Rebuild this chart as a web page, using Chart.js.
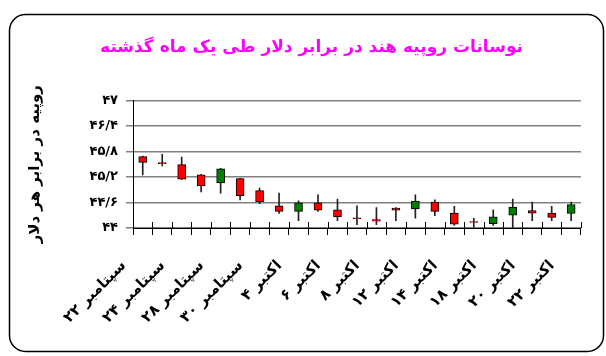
<!DOCTYPE html>
<html>
<head>
<meta charset="utf-8">
<script src="https://cdn.jsdelivr.net/npm/chart.js@4"></script>
<style>
  html, body { margin: 0; padding: 0; background: #fff; }
  #wrap { width: 606px; height: 356px; position: relative; }
</style>
</head>
<body>
<div id="wrap"><canvas id="c" width="606" height="356"></canvas></div>
<script>
// ---- data ----
const categories = [
  'سپتامبر ۲۲', 'سپتامبر ۲۳', 'سپتامبر ۲۴', 'سپتامبر ۲۷', 'سپتامبر ۲۸', 'سپتامبر ۲۹', 'سپتامبر ۳۰',
  'اکتبر ۱', 'اکتبر ۴', 'اکتبر ۵', 'اکتبر ۶', 'اکتبر ۷', 'اکتبر ۸', 'اکتبر ۱۱', 'اکتبر ۱۲',
  'اکتبر ۱۳', 'اکتبر ۱۴', 'اکتبر ۱۵', 'اکتبر ۱۸', 'اکتبر ۱۹', 'اکتبر ۲۰', 'اکتبر ۲۱', 'اکتبر ۲۲'
];
const openValues  = [45.68, 45.54, 45.49, 45.25, 45.06, 45.16, 44.88, 44.52, 44.39, 44.59, 44.43, 44.24, 44.20, 44.47, 44.45, 44.61, 44.35, 44.15, 44.10, 44.30, 44.41, 44.35, 44.34];
const highValues  = [45.69, 45.73, 45.67, 45.26, 45.40, 45.17, 44.94, 44.82, 44.64, 44.78, 44.68, 44.52, 44.48, 44.48, 44.78, 44.66, 44.51, 44.23, 44.43, 44.68, 44.61, 44.51, 44.61];
const lowValues   = [45.25, 45.46, 45.14, 44.85, 44.82, 44.66, 44.57, 44.34, 44.17, 44.39, 44.17, 44.08, 44.08, 44.17, 44.23, 44.29, 44.06, 44.02, 44.06, 44.00, 44.17, 44.17, 44.17];
const closeValues = [45.54, 45.51, 45.15, 44.99, 45.39, 44.76, 44.62, 44.39, 44.59, 44.42, 44.26, 44.22, 44.16, 44.42, 44.63, 44.39, 44.09, 44.13, 44.26, 44.49, 44.35, 44.25, 44.55];
const yTickValues = [44, 44.6, 45.2, 45.8, 46.4, 47];
const yTickLabels = ['۴۴', '۴۴/۶', '۴۵/۲', '۴۵/۸', '۴۶/۴', '۴۷'];
const chartTitle = 'نوسانات روپیه هند در برابر دلار طی یک ماه گذشته';
const yAxisTitle = 'روپیه در برابر هر دلار';

// ---- derived tables ----
const wickData = categories.map((_, i) => [lowValues[i], highValues[i]]);
const bodyData = categories.map((_, i) => [openValues[i], closeValues[i]]);
const bodyColors = categories.map((_, i) => closeValues[i] >= openValues[i] ? '#008000' : '#FF0000');

const FONT = "'DejaVu Sans', sans-serif";

const frame = {
  id: 'frame',
  beforeDraw(chart) {
    const ctx = chart.ctx;
    ctx.save();
    ctx.fillStyle = '#fff';
    ctx.fillRect(0, 0, chart.width, chart.height);
    ctx.beginPath();
    ctx.roundRect(9.5, 14.5, 594, 337, 16);
    ctx.lineWidth = 1.5;
    ctx.strokeStyle = '#000';
    ctx.stroke();
    ctx.restore();
  },
  afterDraw(chart) {
    // upper half of the crossing category tick marks on the x axis
    const x = chart.scales.x;
    const ctx = chart.ctx;
    ctx.save();
    ctx.strokeStyle = '#000';
    ctx.lineWidth = 1;
    ctx.beginPath();
    for (let i = 0; i <= categories.length; i++) {
      const px = Math.round(x.getPixelForValue(i - 0.5)) + 0.5;
      ctx.moveTo(px, x.top - 6);
      ctx.lineTo(px, x.top);
    }
    ctx.stroke();
    ctx.restore();
  }
};

new Chart(document.getElementById('c'), {
  type: 'bar',
  data: {
    labels: categories,
    datasets: [
      {
        label: 'body',
        data: bodyData,
        backgroundColor: bodyColors,
        borderColor: '#000',
        borderWidth: 1,
        borderSkipped: false,
        barThickness: 8,
        grouped: false,
        order: 0
      },
      {
        label: 'wick',
        data: wickData,
        backgroundColor: '#222',
        borderWidth: 0,
        barThickness: 1,
        grouped: false,
        order: 1
      }
    ]
  },
  options: {
    responsive: false,
    animation: false,
    devicePixelRatio: 1,
    layout: { padding: { left: 22, right: 5, top: 0, bottom: 0 } },
    plugins: {
      legend: { display: false },
      tooltip: { enabled: false },
      title: {
        display: true,
        text: chartTitle,
        color: '#FF00FF',
        font: { family: FONT, size: 17, weight: 'bold' },
        padding: { top: 37, bottom: 43 }
      }
    },
    scales: {
      x: {
        type: 'category',
        offset: true,
        border: { display: true, color: '#000', width: 1 },
        grid: {
          display: true,
          drawOnChartArea: false,
          drawTicks: true,
          tickLength: 7,
          tickColor: '#000',
          offset: true
        },
        ticks: {
          autoSkip: false,
          maxRotation: 45,
          minRotation: 45,
          labelOffset: -19,
          padding: 22,
          color: '#000',
          font: { family: FONT, size: 15, weight: 'bold' },
          callback: function (value, index) { return index % 2 === 0 ? categories[index] : ''; }
        },
        afterFit: function (scale) { scale.height = 128; }
      },
      y: {
        min: 44,
        max: 47,
        border: { display: true, color: '#000', width: 1 },
        grid: {
          color: '#808080',
          lineWidth: 1.5,
          borderDash: [7, 5],
          drawTicks: true,
          tickLength: 7,
          tickColor: '#808080'
        },
        afterBuildTicks: function (scale) { scale.ticks = yTickValues.map(v => ({ value: v })); },
        ticks: {
          padding: 8,
          color: '#000',
          font: { family: FONT, size: 13, weight: 'bold' },
          callback: function (value) {
            const k = yTickValues.findIndex(v => Math.abs(v - value) < 1e-6);
            return k >= 0 ? yTickLabels[k] : '';
          }
        },
        title: {
          display: true,
          text: yAxisTitle,
          color: '#000',
          font: { family: FONT, size: 15, weight: 'bold' },
          padding: { top: 4, bottom: 4 }
        },
        afterFit: function (scale) { scale.width = 111; }
      }
    }
  },
  plugins: [frame]
});
</script>
</body>
</html>
